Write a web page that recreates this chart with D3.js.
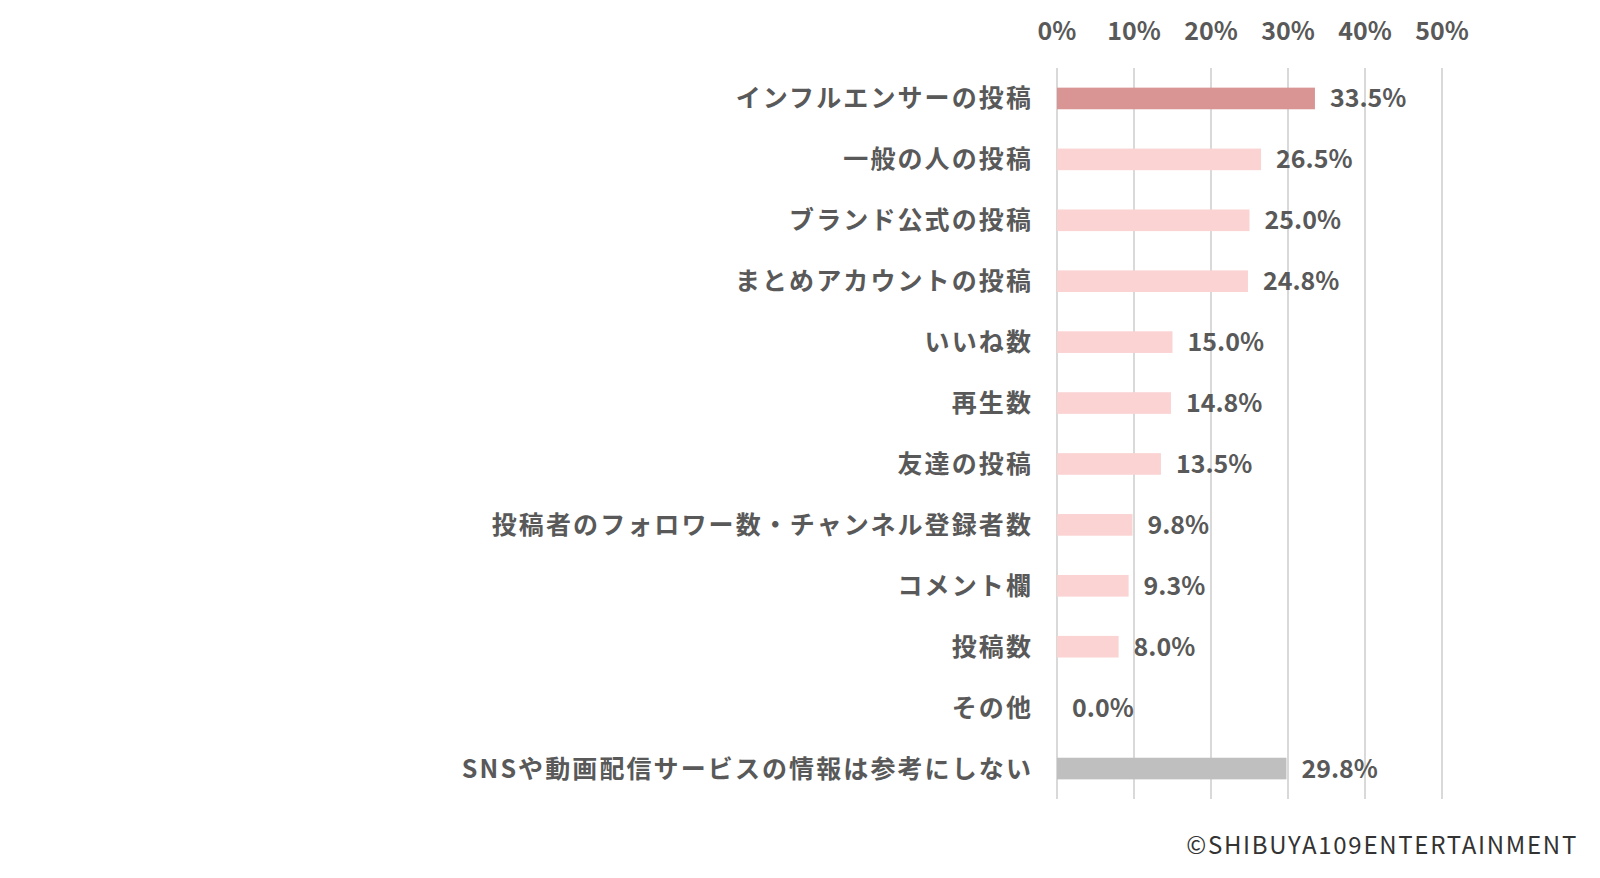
<!DOCTYPE html>
<html><head><meta charset="utf-8">
<script src="https://cdn.jsdelivr.net/npm/d3@7"></script>
<style>body{margin:0;background:#fff;}svg{display:block;}</style>
</head><body>
<script>
const categories = ["インフルエンサーの投稿","一般の人の投稿","ブランド公式の投稿","まとめアカウントの投稿","いいね数","再生数","友達の投稿","投稿者のフォロワー数・チャンネル登録者数","コメント欄","投稿数","その他","SNSや動画配信サービスの情報は参考にしない"];
const values = [33.5,26.5,25.0,24.8,15.0,14.8,13.5,9.8,9.3,8.0,0.0,29.8];
const tickValues = [0,10,20,30,40,50];
const colors = ["#D99594","#FBD3D3","#FBD3D3","#FBD3D3","#FBD3D3","#FBD3D3","#FBD3D3","#FBD3D3","#FBD3D3","#FBD3D3","#FBD3D3","#BFBFBF"];
const credit = "©SHIBUYA109ENTERTAINMENT";

const W=1600,H=878;
const font = "'Noto Sans CJK JP','Noto Sans',sans-serif";
const svg = d3.select("body").append("svg").attr("width",W).attr("height",H);
const x = d3.scaleLinear().domain([0,50]).range([1057,1442]);
const y = d3.scaleBand().domain(categories).range([68,799]).paddingInner(0.645).paddingOuter(0.3225);

svg.append("g").selectAll("line").data(tickValues).join("line")
  .attr("x1",d=>x(d)).attr("x2",d=>x(d)).attr("y1",68).attr("y2",799)
  .attr("stroke","#D9D9D9").attr("stroke-width",2);

svg.append("g").selectAll("text").data(tickValues).join("text")
  .attr("x",d=>x(d)).attr("y",40).attr("text-anchor","middle")
  .attr("font-family",font).attr("font-weight","bold").attr("font-size",25).attr("fill","#595959")
  .text(d=>d+"%");

svg.append("g").selectAll("rect").data(values).join("rect")
  .attr("x",x(0)).attr("y",(d,i)=>y(categories[i]))
  .attr("width",d=>x(d)-x(0)).attr("height",y.bandwidth())
  .attr("fill",(d,i)=>colors[i]);

svg.append("g").selectAll("text").data(values).join("text")
  .attr("x",d=>x(d)+15).attr("y",(d,i)=>y(categories[i])+y.bandwidth()/2)
  .attr("dy","0.36em")
  .attr("font-family",font).attr("font-weight","bold").attr("font-size",25).attr("fill","#595959")
  .text(d=>d.toFixed(1)+"%");

svg.append("g").selectAll("text").data(categories).join("text")
  .attr("x",1033).attr("y",d=>y(d)+y.bandwidth()/2).attr("dy","0.36em")
  .attr("text-anchor","end")
  .attr("font-family",font).attr("font-weight","bold").attr("font-size",25)
  .attr("letter-spacing","2.1px").attr("fill","#595959")
  .text(d=>d);

svg.append("text").attr("x",1578).attr("y",854).attr("text-anchor","end")
  .attr("font-family",font).attr("font-size",24).attr("letter-spacing","1.7px")
  .attr("fill","#333333").text(credit);
</script>
</body></html>
